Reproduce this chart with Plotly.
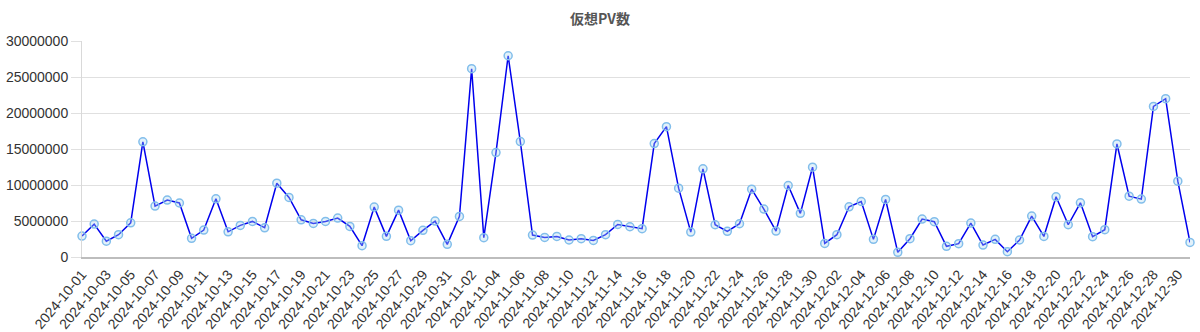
import pandas as pd
import plotly.graph_objects as go

dates = pd.date_range("2024-10-01", "2024-12-31", freq="D").strftime("%Y-%m-%d").tolist()

pv_october = [2910000, 4570000, 2200000, 3100000, 4750000, 16000000, 7070000, 7900000, 7500000, 2600000,
              3740000, 8080000, 3500000, 4390000, 4940000, 4060000, 10250000, 8270000, 5170000, 4660000,
              4940000, 5400000, 4250000, 1570000, 6930000, 2870000, 6510000, 2260000, 3700000, 4990000,
              1760000]
pv_november = [5640000, 26150000, 2680000, 14500000, 27950000, 16030000, 3050000, 2720000, 2860000, 2360000,
               2540000, 2300000, 3100000, 4520000, 4200000, 3930000, 15750000, 18100000, 9560000, 3460000,
               12240000, 4480000, 3560000, 4620000, 9420000, 6650000, 3600000, 9930000, 6060000, 12470000]
pv_december = [1890000, 3100000, 6970000, 7710000, 2450000, 7990000, 650000, 2540000, 5270000, 4900000,
               1480000, 1850000, 4710000, 1660000, 2450000, 740000, 2360000, 5680000, 2860000, 8360000,
               4480000, 7530000, 2820000, 3790000, 15700000, 8450000, 8040000, 20920000, 21990000, 10530000,
               2030000]
pv = pv_october + pv_november + pv_december

title_text = "仮想PV数"
y_ticks = [0, 5000000, 10000000, 15000000, 20000000, 25000000, 30000000]
x_ticks = dates[::2]

fig = go.Figure()
fig.add_trace(go.Scatter(
    x=dates, y=pv, mode="lines+markers",
    line=dict(color="#0000ee", width=1.5),
    marker=dict(size=8, color="rgba(173,216,240,0.35)",
                line=dict(color="rgb(130,190,235)", width=1.5)),
    cliponaxis=False, showlegend=False,
))

fig.update_layout(
    width=1200, height=332,
    margin=dict(l=82, r=10, t=40.5, b=75, pad=0),
    paper_bgcolor="white", plot_bgcolor="white",
    font=dict(family="Liberation Sans, Arial, sans-serif", size=14, color="#333"),
    title=dict(text="<b>" + title_text + "</b>", x=0.5, xanchor="center",
               y=1 - 19.5 / 332, yanchor="middle", yref="container",
               font=dict(family="Noto Sans CJK JP", size=14, color="#555")),
    xaxis=dict(type="category", categoryorder="array", categoryarray=dates,
               range=[0, len(dates) - 1], automargin=False,
               tickmode="array", tickvals=x_ticks, ticktext=x_ticks,
               tickangle=-50, tickfont=dict(size=14),
               showgrid=False, zeroline=False,
               showline=True, linecolor="#bdbdbd", linewidth=1.5,
               ticks="", ticklen=0, ticklabelstandoff=2),
    yaxis=dict(range=[0, 30000000], tickmode="array", tickvals=y_ticks,
               ticktext=[str(v) for v in y_ticks], automargin=False,
               showgrid=True, gridcolor="#e0e0e0", gridwidth=1,
               zeroline=False, showline=True, linecolor="#d9d9d9", linewidth=1,
               ticks="outside", ticklen=10, tickcolor="#e0e0e0"),
)

fig.write_html("out.html")
